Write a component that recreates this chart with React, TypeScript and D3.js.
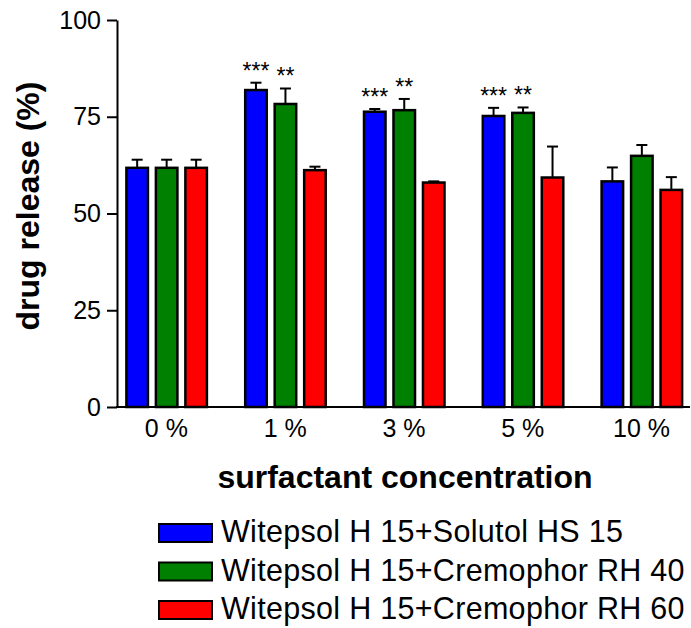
import React, { useEffect, useRef } from "react";
import * as d3 from "d3";

const categories = ["0 %", "1 %", "3 %", "5 %", "10 %"];
const seriesNames = [
  "Witepsol H 15+Solutol HS 15",
  "Witepsol H 15+Cremophor RH 40",
  "Witepsol H 15+Cremophor RH 60",
];
const seriesColors = ["#0000ff", "#008000", "#ff0000"];

// mean drug release (%) and upper SD per concentration
const solutol = [61.8, 81.9, 76.3, 75.2, 58.3];
const solutolErr = [2.1, 1.9, 0.7, 2.1, 3.6];
const rh40 = [61.8, 78.3, 76.7, 76.0, 64.9];
const rh40Err = [2.1, 4.0, 2.9, 1.4, 2.8];
const rh60 = [61.8, 61.2, 58.0, 59.3, 56.1];
const rh60Err = [2.1, 0.9, 0.3, 8.0, 3.3];

// significance marks, one row per concentration
const stars = [
  ["", "", ""],
  ["***", "**", ""],
  ["***", "**", ""],
  ["***", "**", ""],
  ["", "", ""],
];
const yTicks = [0, 25, 50, 75, 100];

const FONT = "'Liberation Sans', Arial, Helvetica, sans-serif";

const App = () => {
  const svgRef = useRef<SVGSVGElement>(null);

  useEffect(() => {
    const width = 691;
    const height = 628;
    const svg = d3.select(svgRef.current).attr("width", width).attr("height", height);
    svg.selectAll("*").remove();

    const values = [solutol, rh40, rh60];
    const errors = [solutolErr, rh40Err, rh60Err];

    const y = d3.scaleLinear().domain([0, 100]).range([407, 20]);
    const x = d3.scaleBand().domain(categories).range([107, 701]).paddingInner(0);
    const inner = d3.scaleBand<number>().domain([0, 1, 2]).range([-40, 40.5]).paddingInner(0.27);

    const rows = categories.flatMap((c, ci) =>
      values.map((vals, si) => ({
        cat: c,
        s: si,
        v: vals[ci],
        e: errors[si][ci],
        star: stars[ci][si],
      }))
    );
    const cx = (d) => x(d.cat)! + x.bandwidth() / 2 + inner(d.s)!;
    const mid = (d) => cx(d) + inner.bandwidth() / 2;

    // error bars (upper only)
    const err = svg.append("g").attr("stroke", "#000").attr("stroke-width", 2);
    err.selectAll("line.v")
      .data(rows)
      .enter()
      .append("line")
      .attr("class", "v")
      .attr("x1", mid)
      .attr("x2", mid)
      .attr("y1", (d) => y(d.v))
      .attr("y2", (d) => y(d.v + d.e));
    err.selectAll("line.c")
      .data(rows)
      .enter()
      .append("line")
      .attr("class", "c")
      .attr("x1", (d) => mid(d) - 5.5)
      .attr("x2", (d) => mid(d) + 5.5)
      .attr("y1", (d) => y(d.v + d.e))
      .attr("y2", (d) => y(d.v + d.e));

    // bars
    svg.append("g")
      .selectAll("rect")
      .data(rows)
      .enter()
      .append("rect")
      .attr("x", cx)
      .attr("y", (d) => y(d.v))
      .attr("width", inner.bandwidth())
      .attr("height", (d) => y(0) - y(d.v))
      .attr("fill", (d) => seriesColors[d.s])
      .attr("stroke", "#000")
      .attr("stroke-width", 2.5);

    // asterisks
    svg.append("g")
      .selectAll("text")
      .data(rows.filter((d) => d.star))
      .enter()
      .append("text")
      .attr("x", mid)
      .attr("y", (d) => y(d.v + d.e) - 4)
      .attr("text-anchor", "middle")
      .attr("font-family", FONT)
      .attr("font-size", 23)
      .text((d) => d.star);

    // y axis
    const yAxis = d3.axisLeft(y).tickValues(yTicks).tickSize(10).tickSizeOuter(0).tickPadding(6);
    const gy = svg.append("g").attr("transform", "translate(117,0)").call(yAxis);
    gy.selectAll("path, line").attr("stroke", "#000").attr("stroke-width", 2);
    gy.selectAll("text").attr("font-family", FONT).attr("font-size", 25).attr("fill", "#000");

    // x axis
    const xAxis = d3.axisBottom(x).tickSize(0).tickPadding(12);
    const gx = svg.append("g").attr("transform", "translate(0,407)").call(xAxis);
    gx.select("path").remove();
    gx.selectAll("text").attr("font-family", FONT).attr("font-size", 25).attr("fill", "#000");
    svg.append("line")
      .attr("x1", 116)
      .attr("x2", 690)
      .attr("y1", 407)
      .attr("y2", 407)
      .attr("stroke", "#000")
      .attr("stroke-width", 2);

    // axis titles
    svg.append("text")
      .attr("transform", "translate(39,206) rotate(-90)")
      .attr("text-anchor", "middle")
      .attr("font-family", FONT)
      .attr("font-weight", "bold")
      .attr("font-size", 32)
      .text("drug release (%)");
    svg.append("text")
      .attr("x", 405)
      .attr("y", 488)
      .attr("text-anchor", "middle")
      .attr("font-family", FONT)
      .attr("font-weight", "bold")
      .attr("font-size", 32)
      .text("surfactant concentration");

    // legend
    const legend = svg.append("g")
      .selectAll("g")
      .data(seriesNames)
      .enter()
      .append("g")
      .attr("transform", (d, i) => `translate(0,${i * 38.5})`);
    legend.append("rect")
      .attr("x", 159)
      .attr("y", 524)
      .attr("width", 53)
      .attr("height", 18)
      .attr("fill", (d, i) => seriesColors[i])
      .attr("stroke", "#000")
      .attr("stroke-width", 2);
    legend.append("text")
      .attr("x", 221)
      .attr("y", 542)
      .attr("font-family", FONT)
      .attr("font-size", 30.5)
      .attr("letter-spacing", 0.3)
      .text((d) => d);
  }, []);

  return (
    <svg
      ref={svgRef}
      style={{ position: "absolute", left: 0, top: 0, background: "#fff" }}
    ></svg>
  );
};

export default App;
